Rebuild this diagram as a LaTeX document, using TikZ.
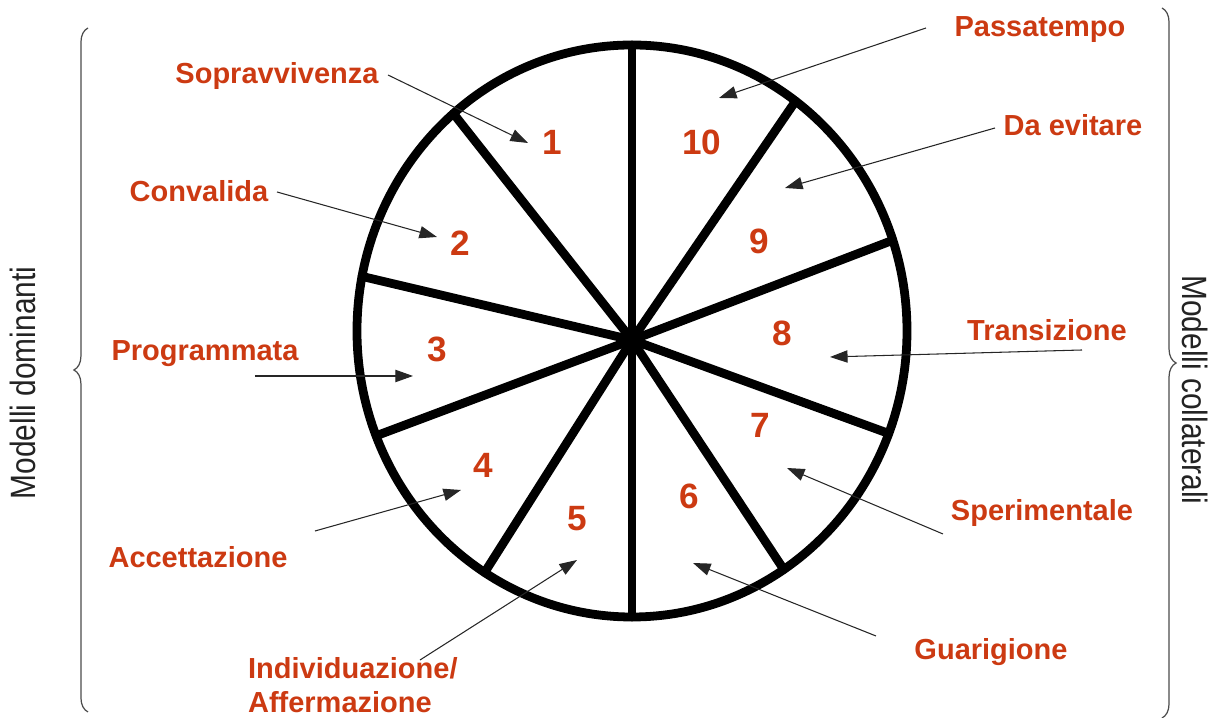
\documentclass[tikz,border=0pt]{standalone}
\usepackage{fontspec}
\setmainfont{Liberation Sans}
\newfontfamily\narrowsans[FakeStretch=0.85]{Liberation Sans}
\usetikzlibrary{arrows.meta,positioning,calc,decorations.pathreplacing}
\definecolor{labelred}{RGB}{204,58,18}
\definecolor{sidegray}{RGB}{35,35,35}

\tikzset{
  wheel/.style={line width=5pt,black},
  spoke/.style={line width=5pt,black},
  num/.style={text=labelred,font=\bfseries\fontsize{20}{24}\selectfont,inner sep=1pt},
  lbl/.style={text=labelred,font=\bfseries\fontsize{16.5}{19.5}\selectfont,inner sep=1pt},
  pointer/.style={-{Triangle[length=10pt,width=7pt]},line width=0.6pt,black!85},
  sidebrace/.style={decorate,decoration={brace,amplitude=8pt},line width=0.7pt,black!70},
  sidetext/.style={text=sidegray,font=\narrowsans\fontsize{20}{24}\selectfont}
}

\begin{document}
\begin{tikzpicture}
  \useasboundingbox (-12.64,-7.56) rectangle (11.66,6.8);

  % wheel
  \coordinate (hub) at (0,0);
  \draw[wheel] (0,0.18) ellipse [x radius=5.5,y radius=5.72];
  \foreach \a in {90,130.5,169,201.5,237.6,270,303.5,339,18.5,53.5}
    \draw[spoke,line cap=round] (hub) -- ({5.5*cos(\a)},{0.18+5.72*sin(\a)});

  % numbers
  \node[num] (n1) at (-1.6,3.96) {1};
  \node[num] (n10) at (1.4,3.96) {10};
  \node[num] (n2) at (-3.44,1.94) {2};
  \node[num] (n9) at (2.54,1.98) {9};
  \node[num] (n3) at (-3.9,-0.18) {3};
  \node[num] (n8) at (3.0,0.14) {8};
  \node[num] (n4) at (-2.98,-2.5) {4};
  \node[num] (n7) at (2.56,-1.7) {7};
  \node[num] (n5) at (-1.1,-3.58) {5};
  \node[num] (n6) at (1.14,-3.12) {6};

  % labels, left
  \node[lbl] (sopr) at (-7.1,5.28) {Sopravvivenza};
  \node[lbl] (conv) at (-8.66,2.98) {Convalida};
  \node[lbl] (prog) at (-8.54,-0.28) {Programmata};
  \node[lbl] (acce) at (-8.68,-4.34) {Accettazione};
  \node[lbl,anchor=west,align=left] (indi) at (-7.72,-6.9) {Individuazione/\\Affermazione};
  % labels, right
  \node[lbl] (pass) at (8.16,6.2) {Passatempo};
  \node[lbl] (evit) at (8.82,4.3) {Da evitare};
  \node[lbl] (tran) at (8.3,0.2) {Transizione};
  \node[lbl] (sper) at (8.2,-3.46) {Sperimentale};
  \node[lbl] (guar) at (7.18,-6.24) {Guarigione};

  % arrow ends
  \coordinate (s1) at (-4.88,5.3);   \coordinate (e1) at (-2.08,3.94);
  \coordinate (s2) at (-7.1,2.96);   \coordinate (e2) at (-3.9,2.06);
  \coordinate (s3) at (-7.54,-0.72); \coordinate (e3) at (-4.38,-0.72);
  \coordinate (s4) at (-6.34,-3.82); \coordinate (e4) at (-3.42,-3.0);
  \coordinate (s5) at (-4.24,-6.4);  \coordinate (e5) at (-1.1,-4.4);
  \coordinate (s10) at (5.88,6.24);  \coordinate (e10) at (1.74,4.84);
  \coordinate (s9) at (7.26,4.24);   \coordinate (e9) at (3.06,3.04);
  \coordinate (s8) at (9.0,-0.2);    \coordinate (e8) at (3.96,-0.34);
  \coordinate (s7) at (6.22,-3.88);  \coordinate (e7) at (3.1,-2.56);
  \coordinate (s6) at (4.88,-5.92);  \coordinate (e6) at (1.22,-4.46);
  \foreach \i in {1,...,10}
    \draw[pointer] (s\i) -- (e\i);

  % braces
  \coordinate (lb0) at (-10.88,-7.44); \coordinate (lb1) at (-10.88,6.24);
  \coordinate (rb0) at (10.6,6.64);    \coordinate (rb1) at (10.6,-7.56);
  \draw[sidebrace] (lb0) -- (lb1);
  \draw[sidebrace] (rb0) -- (rb1);
  \node[sidetext,rotate=90] (dom) at (-12.18,-0.86) {Modelli dominanti};
  \node[sidetext,rotate=-90] (col) at (11.26,-1.0) {Modelli collaterali};
\end{tikzpicture}
\end{document}
